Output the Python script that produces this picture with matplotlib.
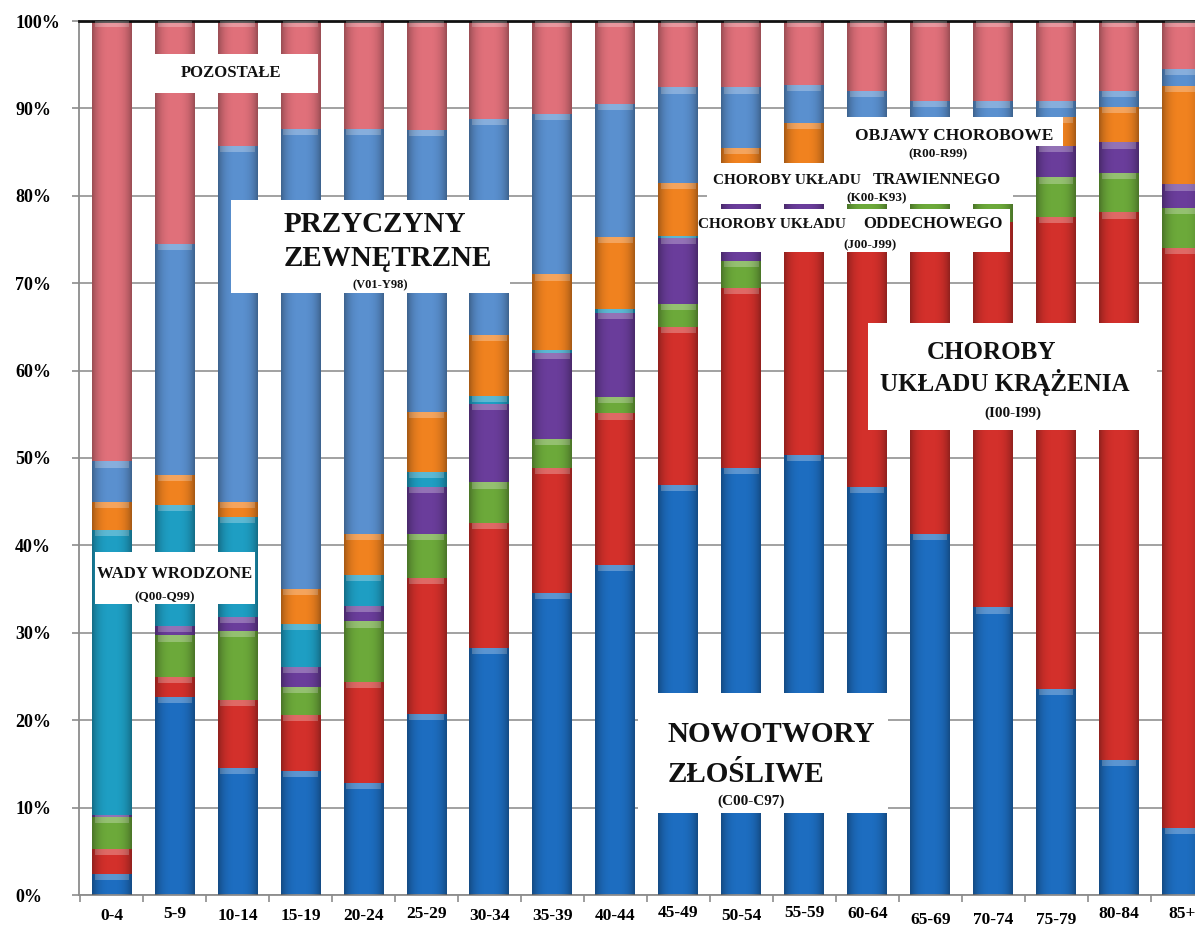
import matplotlib
matplotlib.use('Agg')
import matplotlib.pyplot as plt
import matplotlib.transforms as mtransforms
import numpy as np
from matplotlib.patches import Rectangle

age_groups = ['0-4', '5-9', '10-14', '15-19', '20-24', '25-29', '30-34', '35-39',
              '40-44', '45-49', '50-54', '55-59', '60-64', '65-69', '70-74',
              '75-79', '80-84', '85+']

# share of deaths by cause group, % (bottom -> top of each bar)
nowotwory = [2.4, 22.7, 14.5, 14.2, 12.8, 20.7, 28.3, 34.6, 37.8, 46.9, 48.9,
             50.4, 46.7, 41.3, 32.9, 23.6, 15.5, 7.7]
krazenie = [2.9, 2.3, 7.8, 6.4, 11.6, 15.6, 14.3, 14.3, 17.3, 18.1, 20.6,
            24.1, 29.3, 35.2, 44.1, 54.0, 62.6, 66.3]
oddechowy = [3.6, 4.7, 7.9, 3.2, 6.9, 5.0, 4.6, 3.3, 1.9, 2.6, 3.0,
             3.0, 4.5, 4.5, 4.5, 4.5, 4.5, 4.6]
trawienny = [0.3, 1.1, 1.6, 2.3, 1.8, 5.4, 9.0, 9.8, 9.6, 7.6, 7.8,
             4.8, 5.0, 4.5, 4.2, 3.6, 3.5, 2.7]
wady = [32.6, 13.8, 11.5, 4.9, 3.5, 1.7, 0.9, 0.4, 0.4, 0.2, 0.2,
        0.1, 0.1, 0.1, 0.1, 0.0, 0.0, 0.0]
objawy = [3.2, 3.5, 1.7, 4.0, 4.7, 6.9, 7.0, 8.6, 8.3, 6.1, 5.0,
          5.9, 3.4, 3.4, 3.2, 3.3, 4.1, 11.3]
zewnetrzne = [4.6, 26.4, 40.7, 52.7, 46.3, 32.2, 24.7, 18.4, 15.2, 10.9, 6.9,
              4.4, 3.0, 1.9, 1.8, 1.8, 1.8, 1.9]
pozostale = [50.4, 25.5, 14.3, 12.3, 12.4, 12.5, 11.2, 10.6, 9.5, 7.6, 7.6,
             7.3, 8.0, 9.1, 9.2, 9.2, 8.0, 5.5]

series = [nowotwory, krazenie, oddechowy, trawienny, wady, objawy, zewnetrzne, pozostale]
colors = ['#1d6dc0', '#d3302b', '#6ca93a', '#6a3d9b', '#1e9ec3', '#f0821f', '#5a90cf', '#e0707a']

W, H = 1195, 927
SERIF = 'Liberation Serif'

fig = plt.figure(figsize=(W / 100, H / 100), dpi=100)
ax = fig.add_axes([79 / W, 32 / H, (1213.5 - 79) / W, 874 / H])

x = np.arange(len(age_groups))
bw = 0.635
bottom = np.zeros(len(x))
for vals, c in zip(series, colors):
    vals = np.array(vals)
    ax.bar(x, vals, bw, bottom=bottom, color=c, linewidth=0, zorder=2)
    tops = bottom + vals
    # thin glossy band on top of every segment
    hl = np.minimum(vals, 0.7)
    ax.bar(x, hl, bw * 0.86, bottom=tops - hl, color='white', alpha=0.28,
           linewidth=0, zorder=3)
    bottom = tops

# darker sides of each column
shade = np.abs(np.linspace(-1, 1, 80)) ** 3
img = np.zeros((1, 80, 4))
img[..., 3] = 0.32 * shade
for xi in x:
    ax.imshow(img, extent=[xi - bw / 2, xi + bw / 2, 0, 100], aspect='auto',
              interpolation='bilinear', zorder=4)

ax.set_xlim(-0.52, 17.5)
ax.set_ylim(0, 100)

ax.set_yticks(np.arange(0, 101, 10))
ax.set_yticklabels(['{}%'.format(v) for v in range(0, 101, 10)],
                   fontfamily=SERIF, fontweight='bold', fontsize=13)
for lbl in ax.get_yticklabels():
    lbl.set_ha('left')
ax.tick_params(axis='y', length=5, color='#8c8c8c', width=1.2, pad=41)
ax.yaxis.grid(True, color='#9a9a9a', linewidth=1.3, zorder=0)
ax.set_axisbelow(True)

ax.set_xticks(x)
ax.set_xticklabels(age_groups, fontfamily=SERIF, fontweight='bold', fontsize=12.5)
ax.set_xticks(np.arange(-0.5, 18, 1), minor=True)
ax.tick_params(axis='x', which='major', length=0, pad=9)
ax.tick_params(axis='x', which='minor', length=5, color='#8c8c8c', width=1.2)

# the age labels sit a little unevenly
shifts = [0, 1.5, -1, 0, -1, 2, -1, -0.5, -1, 2.5, 0, 2.5, 2, -4.5, -4.5, -4.5, 1, 2]
for lbl, dy in zip(ax.get_xticklabels(), shifts):
    off = mtransforms.ScaledTranslation(0, dy / 100, fig.dpi_scale_trans)
    lbl.set_transform(lbl.get_transform() + off)

for side in ['left', 'bottom']:
    ax.spines[side].set_color('#8c8c8c')
    ax.spines[side].set_linewidth(1.3)
ax.spines['top'].set_color('#111111')
ax.spines['top'].set_linewidth(2)
ax.spines['right'].set_visible(False)


def box(x0, y0, x1, y1):
    fig.add_artist(Rectangle((x0 / W, 1 - y1 / H), (x1 - x0) / W, (y1 - y0) / H,
                             transform=fig.transFigure, facecolor='white',
                             edgecolor='none', zorder=10))


def label(px, py, s, size, ha='center'):
    fig.text(px / W, 1 - py / H, s, ha=ha, va='center', fontsize=size,
             fontfamily=SERIF, fontweight='bold', color='#111111', zorder=11)


box(153, 54, 318, 93)
label(231, 73, 'POZOSTAŁE', 12)

box(231, 200, 510, 293)
label(284, 224, 'PRZYCZYNY', 21, ha='left')
label(284, 258, 'ZEWNĘTRZNE', 21, ha='left')
label(380, 285, '(V01-Y98)', 9)

box(95, 552, 255, 604)
label(175, 574, 'WADY WRODZONE', 12)
label(165, 597, '(Q00-Q99)', 9.5)

box(638, 693, 888, 813)
label(668, 734, 'NOWOTWORY', 21, ha='left')
label(668, 774, 'ZŁOŚLIWE', 21, ha='left')
label(751, 801, '(C00-C97)', 11)

box(868, 323, 1157, 430)
label(991, 352, 'CHOROBY', 18)
label(1005, 383, 'UKŁADU KRĄŻENIA', 18)
label(1013, 413, '(I00-I99)', 11)

box(847, 117, 1063, 146)
box(847, 146, 1030, 163)
label(954, 136, 'OBJAWY CHOROBOWE', 12.5)
label(938, 154, '(R00-R99)', 9.5)

box(707, 163, 1013, 204)
label(713, 181, 'CHOROBY UKŁADU', 11, ha='left')
label(873, 180, 'TRAWIENNEGO', 12, ha='left')
label(877, 198, '(K00-K93)', 9.5)

box(698, 209, 1010, 252)
label(698, 225, 'CHOROBY UKŁADU', 11, ha='left')
label(863, 224, 'ODDECHOWEGO', 12, ha='left')
label(870, 245, '(J00-J99)', 9.5)

fig.savefig('out.png', dpi=100, facecolor='white')
